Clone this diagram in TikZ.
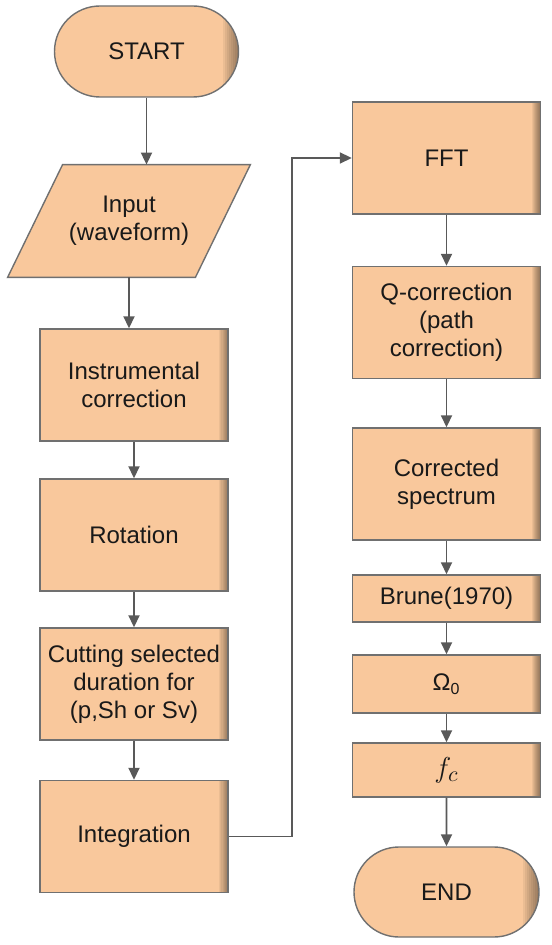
\documentclass[tikz,border=0pt]{standalone}
\usepackage{fontspec}
\setmainfont{Liberation Sans}
\usetikzlibrary{shapes.misc, arrows.meta}

\definecolor{boxfill}{HTML}{F9C89C}
\definecolor{boxline}{HTML}{707070}
\definecolor{flowgray}{HTML}{595959}

\tikzset{
  rimshade/.style={path picture={\foreach \i in {1,...,8}
      \fill[black, opacity=0.055] ([xshift=-\i*#1]path picture bounding box.north east)
        rectangle (path picture bounding box.south east);}},
  rimshade/.default=0.55pt,
  procbox/.style={draw=boxline, fill=boxfill, line width=0.7pt, minimum width=94pt, minimum height=56pt,
      align=center, inner sep=1pt, font=\fontsize{12}{14}\selectfont, text=black!90, rimshade},
  termbox/.style={procbox, rounded rectangle, minimum width=94pt, minimum height=45.5pt, rimshade=1pt},
  iobox/.style={minimum width=93.5pt, minimum height=56pt, align=center, inner sep=1pt,
      font=\fontsize{12}{14}\selectfont, text=black!90},
  iopath/.style={draw=boxline, fill=boxfill, line width=0.7pt},
  flow/.style={draw=flowgray, line width=0.9pt, -{Triangle[length=6pt, width=5.5pt]}}
}

\begin{document}
\begin{tikzpicture}[x=0.5pt, y=-0.5pt]
  \useasboundingbox (0,0) rectangle (551,945);

  % left column
  \node[termbox] (start) at (146.5,51.5) {START};
  \node[iobox] (input) at (129,221) {};
  \draw[iopath] ([xshift=13.75pt]input.north west) -- ([xshift=13.75pt]input.north east)
    -- ([xshift=-13.75pt]input.south east) -- ([xshift=-13.75pt]input.south west) -- cycle;
  \node[iobox] (input text) at (input) {Input\\(waveform)};
  \node[procbox] (instr) at (134,385) {Instrumental\\correction};
  \node[procbox] (rot) at (134,535) {Rotation};
  \node[procbox] (cut) at (134,684) {Cutting selected\\duration for\\(p,Sh or Sv)};
  \node[procbox] (integ) at (134,836.5) {Integration};

  % right column
  \node[procbox] (fft) at (446.5,158) {FFT};
  \node[procbox] (qcor) at (446.5,322.5) {Q-correction\\(path\\correction)};
  \node[procbox] (spec) at (446.5,484) {Corrected\\spectrum};
  \node[procbox, minimum height=23.5pt] (brune) at (446.5,598.5) {Brune(1970)};
  \node[procbox, minimum height=29pt] (omega) at (446.5,684) {Ω\textsubscript{0}};
  \node[procbox, minimum height=27pt] (fc) at (446.5,770) {\fontsize{15}{15}\selectfont$f_c$};
  \node[termbox, minimum width=94.5pt, minimum height=45pt] (end) at (446.5,892) {END};

  \draw[flow] (start.south) -- (start.south |- input.north);
  \draw[flow] (input.south) -- (input.south |- instr.north);
  \foreach \a/\b in {instr/rot, rot/cut, cut/integ, fft/qcor, qcor/spec, spec/brune, brune/omega, omega/fc, fc/end}
    \draw[flow] (\a) -- (\b);

  \coordinate (turn) at (292,836.5);
  \draw[flow] (integ.east) -- (turn) |- (fft.west);
\end{tikzpicture}
\end{document}
